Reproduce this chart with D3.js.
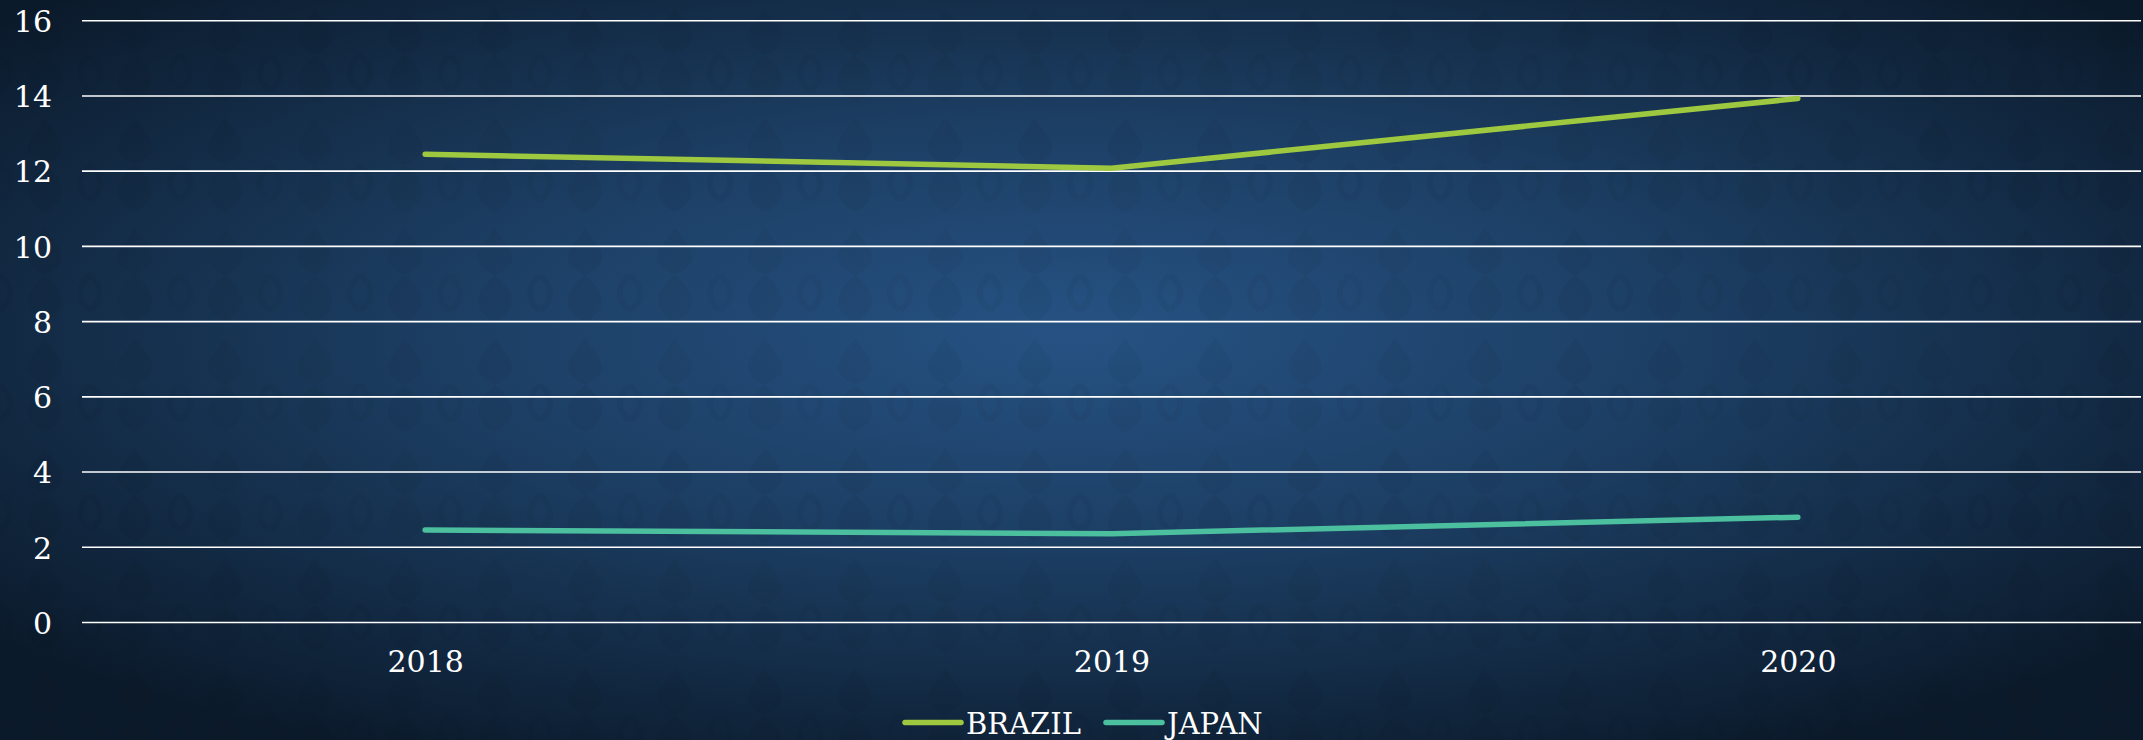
<!DOCTYPE html>
<html><head><meta charset="utf-8">
<script src="https://cdn.jsdelivr.net/npm/d3@7"></script>
<style>html,body{margin:0;padding:0;background:#10233a;}svg{display:block;}</style>
</head><body>
<svg id="c" width="2143" height="740"></svg>
<script>
const categories = ["2018", "2019", "2020"];
const brazil = [12.45, 12.08, 13.93];
const japan = [2.46, 2.36, 2.80];
const yTicks = [0, 2, 4, 6, 8, 10, 12, 14, 16];
const seriesNames = ["BRAZIL", "JAPAN"];
const seriesColors = ["#9dc83f", "#4bbf9e"];

const W = 2143, H = 740;
const svg = d3.select("#c");
const defs = svg.append("defs");
const rg = defs.append("radialGradient").attr("id", "bg")
  .attr("cx", "50%").attr("cy", "45%").attr("r", "65%");
rg.append("stop").attr("offset", "0%").attr("stop-color", "#265283");
rg.append("stop").attr("offset", "45%").attr("stop-color", "#1c3e63");
rg.append("stop").attr("offset", "100%").attr("stop-color", "#0b1a2b");
// faint damask-like pattern
const pat = defs.append("pattern").attr("id", "dm").attr("patternUnits", "userSpaceOnUse")
  .attr("width", 90).attr("height", 110);
pat.append("path").attr("d", "M45,8 C60,30 75,40 45,55 C15,40 30,30 45,8 Z M45,55 C65,70 70,90 45,102 C20,90 25,70 45,55 Z")
  .attr("fill", "#000").attr("opacity", 0.045);
pat.append("path").attr("d", "M0,55 C12,65 15,80 0,90 M90,55 C78,65 75,80 90,90")
  .attr("fill", "none").attr("stroke", "#000").attr("stroke-width", 6).attr("opacity", 0.04);

svg.append("rect").attr("width", W).attr("height", H).attr("fill", "url(#bg)");
svg.append("rect").attr("width", W).attr("height", H).attr("fill", "url(#dm)");

const x0 = 82, x1 = 2141;
const x = d3.scalePoint().domain(categories).range([x0, x1]).padding(0.5);
const y = d3.scaleLinear().domain([0, 16]).range([622.5, 20.7]);

const font = "'DejaVu Serif', serif";

// gridlines
svg.append("g").selectAll("line").data(yTicks).join("line")
  .attr("x1", x0).attr("x2", x1)
  .attr("y1", d => y(d)).attr("y2", d => y(d))
  .attr("stroke", "#ffffff").attr("stroke-width", 1.6);

// y axis labels
const yAxis = d3.axisLeft(y).tickValues(yTicks).tickSize(0).tickPadding(0);
const yg = svg.append("g").attr("transform", "translate(52,0)").call(yAxis);
yg.select(".domain").remove();
yg.selectAll("text").attr("fill", "#fff").style("font-family", font).style("font-size", "30px")
  .attr("dy", "0.36em");

// x axis labels
const xAxis = d3.axisBottom(x).tickSize(0).tickPadding(0);
const xg = svg.append("g").attr("transform", "translate(0,650)").call(xAxis);
xg.select(".domain").remove();
xg.selectAll("text").attr("fill", "#fff").style("font-family", font).style("font-size", "30px")
  .attr("dy", "0.74em");

// lines
const line = d3.line().x((d, i) => x(categories[i])).y(d => y(d));
[brazil, japan].forEach((s, k) => {
  svg.append("path").datum(s).attr("d", line)
    .attr("fill", "none").attr("stroke", seriesColors[k]).attr("stroke-width", 5.5)
    .attr("stroke-linecap", "round").attr("stroke-linejoin", "round");
});

// legend
const legendX = [905, 1106];
const lg = svg.append("g");
seriesNames.forEach((n, k) => {
  lg.append("line").attr("x1", legendX[k]).attr("x2", legendX[k] + 56)
    .attr("y1", 722.5).attr("y2", 722.5)
    .attr("stroke", seriesColors[k]).attr("stroke-width", 5.5).attr("stroke-linecap", "round");
  lg.append("text").attr("x", legendX[k] + 61).attr("y", 734)
    .attr("fill", "#fff").style("font-family", font).style("font-size", "29px").text(n);
});
</script>
</body></html>
